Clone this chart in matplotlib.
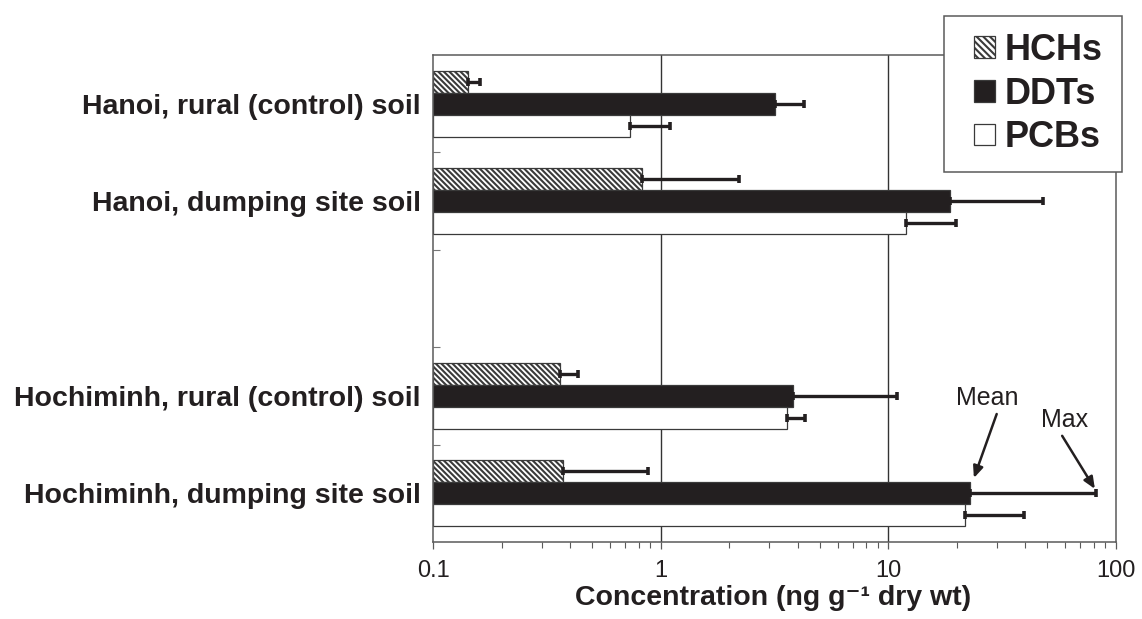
import numpy as np
import matplotlib
matplotlib.use("Agg")
import matplotlib.pyplot as plt
from matplotlib.patches import Patch, Rectangle
from matplotlib.legend_handler import HandlerPatch
from matplotlib.ticker import FixedLocator, NullFormatter, LogLocator

plt.rcParams['font.family'] = ['Liberation Sans', 'DejaVu Sans']
plt.rcParams['hatch.linewidth'] = 1.5

# Sites (blank row separates the two cities)
sites = ["Hanoi, rural (control) soil",
         "Hanoi, dumping site soil",
         "",
         "Hochiminh, rural (control) soil",
         "Hochiminh, dumping site soil"]

compounds = ["HCHs", "DDTs", "PCBs"]

# Mean and maximum concentrations (ng/g dry wt)
hch_mean = [0.142, 0.83, np.nan, 0.36, 0.373]
hch_max = [0.161, 2.2, np.nan, 0.432, 0.877]
ddt_mean = [3.17, 18.7, np.nan, 3.80, 22.9]
ddt_max = [4.28, 47.8, np.nan, 10.9, 82.3]
pcb_mean = [0.73, 12.0, np.nan, 3.58, 21.8]
pcb_max = [1.10, 19.8, np.nan, 4.32, 39.6]

x_ticks = [0.1, 1, 10, 100]
x_ticklabels = ["0.1", "1", "10", "100"]
x_title = "Concentration (ng g\u207b\u00b9 dry wt)"

ink = "#231f20"
frame = "#5a5a5a"
edge = "#3a3a3a"
hatch = "\\\\\\\\\\\\"

fig = plt.figure(figsize=(11.42, 6.19), dpi=100)
ax = fig.add_axes([0.3794, 0.1244, 0.5975, 0.7868])
ax.set_xscale('log')
x_min, x_max = x_ticks[0], x_ticks[-1]
ax.set_xlim(x_min, x_max)
n = len(sites)
ax.set_ylim(n - 0.5, -0.5)
ax.set_axisbelow(True)

pos = np.arange(n)
h = 0.225
styles = [
    dict(color="white", edgecolor=edge, hatch=hatch, linewidth=0.9),
    dict(color=ink, edgecolor=edge, linewidth=0.9),
    dict(color="white", edgecolor=edge, linewidth=0.9),
]
means = [np.array(hch_mean), np.array(ddt_mean), np.array(pcb_mean)]
maxes = [np.array(hch_max), np.array(ddt_max), np.array(pcb_max)]
offsets = [-h, 0.0, h]

for m, mx, off, st in zip(means, maxes, offsets, styles):
    ax.barh(pos + off, m - x_min, left=x_min, height=h, zorder=2, **st)
    ax.errorbar(m, pos + off, xerr=[np.zeros_like(m), mx - m], fmt='none',
                ecolor=ink, elinewidth=2.4, capsize=3.0, capthick=2.6, zorder=3)

# vertical gridlines at the inner decades
for xv in x_ticks[1:-1]:
    ax.axvline(xv, color="#333333", lw=1.0, zorder=1)

# x axis
ax.xaxis.set_major_locator(FixedLocator(x_ticks))
ax.set_xticklabels(x_ticklabels)
ax.xaxis.set_minor_locator(LogLocator(base=10, subs=np.arange(2, 10)))
ax.xaxis.set_minor_formatter(NullFormatter())
ax.tick_params(axis='x', which='major', direction='out', length=5, width=0.9,
               color=frame, labelsize=17, labelcolor=ink, pad=8)
ax.tick_params(axis='x', which='minor', direction='out', length=4, width=0.8,
               color=frame)
ax.set_xlabel(x_title, fontsize=20.5, fontweight='bold', color=ink)
ax.xaxis.set_label_coords(0.498, -0.089)

# y axis: boundary ticks, labels at row centres
ax.yaxis.set_major_locator(FixedLocator(np.arange(n - 1) + 0.5))
ax.yaxis.set_major_formatter(NullFormatter())
ax.yaxis.set_minor_locator(FixedLocator(pos))
ax.set_yticklabels(sites, minor=True)
ax.tick_params(axis='y', which='major', direction='in', length=5, width=0.8,
               color="#777777")
ax.tick_params(axis='y', which='minor', length=0, pad=9, labelsize=20.5,
               labelcolor=ink)
for lbl in ax.get_yticklabels(minor=True):
    lbl.set_fontweight('bold')

for sp in ax.spines.values():
    sp.set_color(frame)
    sp.set_linewidth(1.1)

# Mean / Max call-outs on the Hochiminh dumping site DDT bar
row = 4
ax.text(27.3, 3.02, "Mean", fontsize=18, color=ink, ha='center', va='center')
ax.text(59.8, 3.25, "Max", fontsize=18, color=ink, ha='center', va='center')
arrow = dict(arrowstyle="-|>,head_length=0.7,head_width=0.3", color=ink, lw=1.8,
             shrinkA=0, shrinkB=0)
ax.annotate("", xy=(ddt_mean[row] * 1.04, row - 0.157), xytext=(30.0, 3.186),
            arrowprops=arrow)
ax.annotate("", xy=(ddt_max[row] * 0.985, row - 0.045), xytext=(58.2, 3.41),
            arrowprops=arrow)


# legend: square swatches sitting at the right end of the handle box
def square_swatch(legend, orig_handle, xdescent, ydescent, width, height, fontsize):
    side = 0.6 * fontsize
    return Rectangle((width - side - xdescent, -ydescent + (height - side) / 2),
                     side, side)


handles = [Patch(facecolor="white", edgecolor=edge, hatch="\\\\\\\\\\", linewidth=0.9),
           Patch(facecolor=ink, edgecolor=edge, linewidth=0.9),
           Patch(facecolor="white", edgecolor=edge, linewidth=0.9)]
leg = fig.legend(handles, compounds, loc='upper left',
                 bbox_to_anchor=(944 / 1142, 1 - 169 / 619, 178 / 1142, 153 / 619),
                 mode='expand', borderaxespad=0,
                 handler_map={Patch: HandlerPatch(patch_func=square_swatch)},
                 prop=dict(family='Liberation Sans', weight='bold', size=26),
                 handlelength=0.95, handleheight=0.6, handletextpad=0.25,
                 labelspacing=0.24, borderpad=0.47, fancybox=False,
                 framealpha=1, edgecolor=frame)
leg.get_frame().set_linewidth(1.1)
for t in leg.get_texts():
    t.set_color(ink)

fig.savefig("out.png", dpi=100)
